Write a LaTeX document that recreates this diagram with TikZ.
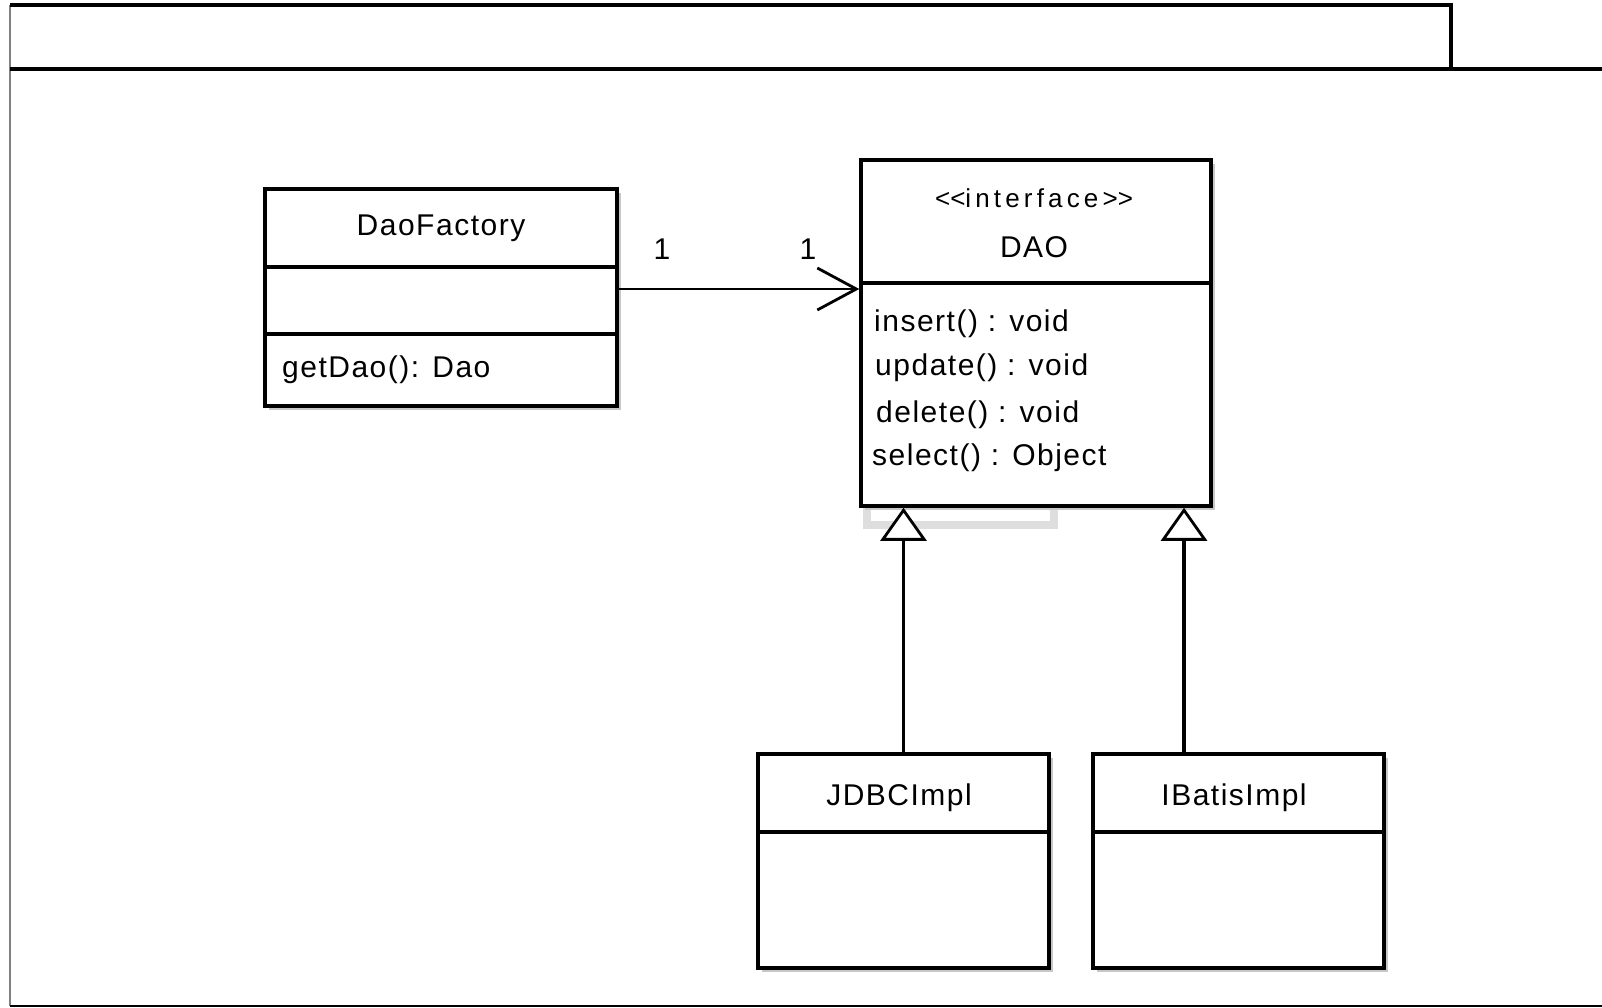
\documentclass[tikz,border=0pt]{standalone}
\usepackage{fontspec}
\setmainfont{Liberation Sans}[LetterSpace=5]
\newfontfamily\stereofont{Liberation Sans}[LetterSpace=16]
\usetikzlibrary{arrows.meta,shadows}
\begin{document}
\begin{tikzpicture}[x=1pt,y=-1pt,
  cls/.style={draw=black, line width=3.5pt, fill=white, rectangle, inner sep=0pt,
    drop shadow={shadow xshift=4pt, shadow yshift=-4pt, fill=black!22, opacity=1}},
  txt/.style={font=\fontsize{30}{36}\selectfont, inner sep=0pt},
  sep/.style={line width=3.5pt},
  framebox/.style={line width=3.5pt, black},
  assoc/.style={line width=2.8pt, -{Straight Barb[length=39pt,width=42pt,line width=2.8pt]}},
  gen/.style={line width=3.2pt, -{Triangle[length=33pt,width=46pt,fill=white,line width=2.8pt]}}]
\useasboundingbox (0,0) rectangle (1602,1008);
\fill[white] (0,0) rectangle (1602,1008);
% frame
\draw[line width=2pt, black!50] (10,5) -- (10,1006);
\draw[framebox] (10,5) -- (1451,5) -- (1451,69);
\draw[framebox] (10,69) -- (1602,69);
\draw[line width=2.5pt] (10,1006) -- (1602,1006);
% gray artefact under DAO
\draw[line width=8pt, black!13] (867,506) -- (867,525) -- (1054,525) -- (1054,506);
% DaoFactory
\node[cls, minimum width=352pt, minimum height=217pt] (df) at (441,297.5) {};
\draw[sep] (df.west |- 0,267) -- (df.east |- 0,267);
\draw[sep] (df.west |- 0,334) -- (df.east |- 0,334);
\node[txt] (dfname) at (441,228) {DaoFactory};
\node[txt, anchor=west] (dfop) at (282,370) {getDao(): Dao};
% DAO
\node[cls, minimum width=350pt, minimum height=346pt] (dao) at (1036,333) {};
\draw[sep] (dao.west |- 0,283) -- (dao.east |- 0,283);
\node[txt, font=\stereofont\fontsize{26}{28}\selectfont] (st) at (1034,198) {\textless\kern0pt\textless\kern0pt interface\textgreater\kern0pt\textgreater};
\node[txt] (daoname) at (1034,247) {DAO};
\node[txt, anchor=west] (m1) at (874,324) {insert() : void};
\node[txt, anchor=west] (m2) at (875,368) {update() : void};
\node[txt, anchor=west] (m3) at (876,415) {delete() : void};
\node[txt, anchor=west] (m4) at (872,458) {select() : Object};
% implementations
\node[cls, minimum width=291pt, minimum height=214pt] (jdbc) at (903.5,861) {};
\draw[sep] (jdbc.west |- 0,832) -- (jdbc.east |- 0,832);
\node[txt] (jdbcname) at (899,798) {JDBCImpl};
\node[cls, minimum width=291pt, minimum height=214pt] (ibatis) at (1238.5,861) {};
\draw[sep] (ibatis.west |- 0,832) -- (ibatis.east |- 0,832);
\node[txt] (ibatisname) at (1234,798) {IBatisImpl};
% association
\draw[assoc] ([yshift=8.5pt]df.east) -- ([yshift=44pt]dao.west);
\node[txt] (m1lab) at (662,249) {1};
\node[txt] (m2lab) at (808,249) {1};
% generalizations
\coordinate (gj) at (jdbc.north);
\draw[gen] (gj) -- (gj |- dao.south);
\coordinate (gi) at ([xshift=-54.5pt]ibatis.north);
\draw[gen] (gi) -- (gi |- dao.south);
\end{tikzpicture}
\end{document}
